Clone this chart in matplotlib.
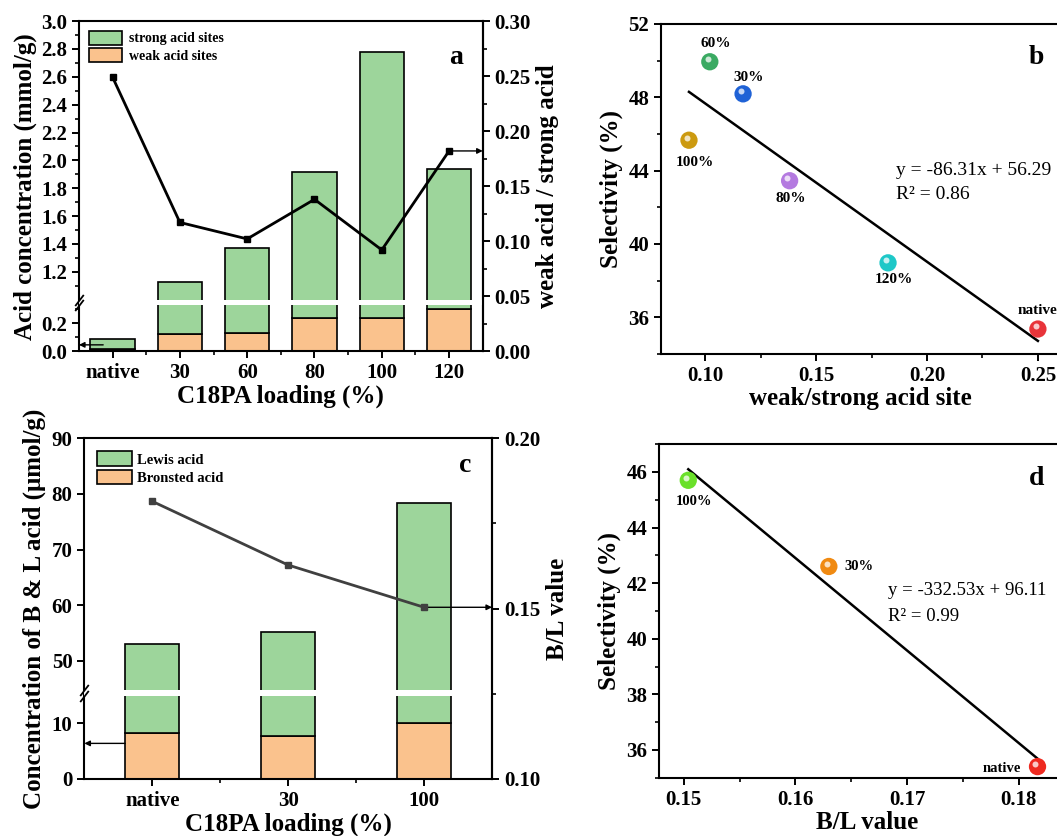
import numpy as np
import matplotlib
matplotlib.use('Agg')
import matplotlib.pyplot as plt
from matplotlib.patches import Patch
from matplotlib.ticker import MultipleLocator, FixedLocator
from matplotlib.transforms import offset_copy

plt.rcParams['font.family'] = ['Liberation Serif', 'DejaVu Serif']
plt.rcParams['font.weight'] = 'bold'
plt.rcParams['axes.labelweight'] = 'bold'
plt.rcParams['axes.linewidth'] = 1.5
plt.rcParams['xtick.major.width'] = 1.4
plt.rcParams['ytick.major.width'] = 1.4
plt.rcParams['xtick.minor.width'] = 1.2
plt.rcParams['ytick.minor.width'] = 1.2
plt.rcParams['xtick.major.size'] = 5
plt.rcParams['ytick.major.size'] = 5
plt.rcParams['xtick.minor.size'] = 3
plt.rcParams['ytick.minor.size'] = 3
plt.rcParams['xtick.labelsize'] = 15
plt.rcParams['ytick.labelsize'] = 15

GREEN = '#9dd59b'
ORANGE = '#fac28d'
LABEL_FS = 18

# --- panel a: acid site concentration vs loading ---
loading_a = ['native', '30', '60', '80', '100', '120']
weak_a = [0.017, 0.12, 0.13, 0.24, 0.24, 0.30]
strong_a = [0.069, 1.01, 1.24, 1.68, 2.54, 1.64]
ratio_a = [0.249, 0.117, 0.102, 0.138, 0.092, 0.182]

# --- panel b: selectivity vs weak/strong ratio ---
names_b = ['native', '30%', '60%', '80%', '100%', '120%']
ratio_b = [0.250, 0.117, 0.102, 0.138, 0.0926, 0.1824]
sel_b = [35.36, 48.19, 49.94, 43.45, 45.66, 38.97]
colors_b = ['#e8343a', '#1f62d6', '#3aaa62', '#b47ae0', '#cc9a10', '#1ec8c8']
fit_b = (-86.31, 56.29)

# --- panel c: Bronsted / Lewis acid ---
loading_c = ['native', '30', '100']
bronsted_c = [8.2, 7.7, 10.1]
lewis_c = [44.9, 47.5, 68.2]
bl_c = [0.1815, 0.1628, 0.1504]

# --- panel d: selectivity vs B/L ---
names_d = ['native', '30%', '100%']
bl_d = [0.1817, 0.1630, 0.1504]
sel_d = [35.4, 42.6, 45.7]
colors_d = ['#ee2a20', '#f08a12', '#6ae02a']
fit_d = (-332.53, 96.11)


def broken_scale(lo, hi, gap):
    """squeeze the data range lo..hi into a band of width gap"""
    shift = hi - lo - gap

    def fwd(y):
        y = np.asarray(y, dtype=float)
        mid = lo + (y - lo) * gap / (hi - lo)
        return np.where(y <= lo, y, np.where(y >= hi, y - shift, mid))

    def inv(u):
        u = np.asarray(u, dtype=float)
        mid = lo + (u - lo) * (hi - lo) / gap
        return np.where(u <= lo, u, np.where(u >= lo + gap, u + shift, mid))
    return fwd, inv


def add_break(ax, lo, hi):
    ax.axhspan(lo, hi, color='white', zorder=3, lw=0)
    ax.plot([0, 0], [lo, hi], transform=ax.get_yaxis_transform(),
            marker=[(-1, -1.3), (1, 1.3)], ms=8, ls='none', mec='k',
            mew=1.3, clip_on=False, zorder=5)


def sphere(ax, x, y, colors, s=155):
    ax.scatter(x, y, s=s, c=colors, zorder=4, linewidths=0)
    hl = offset_copy(ax.transData, fig=ax.figure, x=-1.6, y=1.9, units='points')
    ax.scatter(x, y, s=s * 0.12, c='white', alpha=0.75, zorder=5,
               linewidths=0, transform=hl)


fig = plt.figure(figsize=(10.57, 8.36), dpi=100)

# ================= panel a =================
ax_a = fig.add_axes([0.0747, 0.580, 0.382, 0.3947])
fa, ia = broken_scale(0.33, 1.0, 0.04)
ax_a.set_yscale('function', functions=(fa, ia))
xa = np.arange(len(loading_a))
ax_a.bar(xa, weak_a, width=0.66, color=ORANGE, edgecolor='k', lw=1.2, zorder=2)
ax_a.bar(xa, strong_a, bottom=weak_a, width=0.66, color=GREEN, edgecolor='k',
         lw=1.2, zorder=2)
ax_a.set_xlim(-0.5, len(loading_a) - 0.5)
ax_a.set_ylim(0, 3.0)
ax_a.yaxis.set_major_locator(FixedLocator([0, 0.2] + list(np.round(np.arange(1.2, 3.01, 0.2), 1))))
ax_a.yaxis.set_minor_locator(FixedLocator([0.1, 0.3] + list(np.round(np.arange(1.1, 3.0, 0.2), 1))))
ax_a.yaxis.set_major_formatter(plt.FuncFormatter(lambda v, p: f'{v:.1f}'))
ax_a.set_xticks(xa)
ax_a.set_xticklabels(loading_a)
ax_a.xaxis.set_minor_locator(FixedLocator(xa[:-1] + 0.5))
add_break(ax_a, 0.33, 1.0)
ax_a.set_ylabel('Acid concentration (mmol/g)', fontsize=LABEL_FS, labelpad=3)
ax_a.set_xlabel('C18PA loading (%)', fontsize=LABEL_FS, labelpad=1)
ax_a.legend(handles=[Patch(facecolor=GREEN, edgecolor='k', lw=1.2, label='strong acid sites'),
                     Patch(facecolor=ORANGE, edgecolor='k', lw=1.2, label='weak acid sites')],
            loc='upper left', frameon=False, fontsize=10, handlelength=2.4,
            handleheight=1.15, borderaxespad=0.3, labelspacing=0.2, handletextpad=0.5)
ax_a.text(0.933, 0.89, 'a', transform=ax_a.transAxes, fontsize=20,
          ha='center', va='center')
ax_a.annotate('', xy=(-0.5, 0.045), xytext=(-0.14, 0.045),
              arrowprops=dict(arrowstyle='-|>', color='k', lw=1, mutation_scale=8,
                              shrinkA=0, shrinkB=0), zorder=6)

ax_a2 = ax_a.twinx()
for side in ['left', 'top', 'bottom']:
    ax_a2.spines[side].set_visible(False)
ax_a2.plot(xa, ratio_a, color='k', lw=2, marker='s', ms=5, zorder=4)
ax_a2.set_ylim(0, 0.30)
ax_a2.yaxis.set_major_locator(MultipleLocator(0.05))
ax_a2.yaxis.set_minor_locator(MultipleLocator(0.025))
ax_a2.yaxis.set_major_formatter(plt.FuncFormatter(lambda v, p: f'{v:.2f}'))
ax_a2.set_ylabel('weak acid / strong acid', fontsize=LABEL_FS, labelpad=4)
ax_a2.annotate('', xy=(len(loading_a) - 0.5, ratio_a[-1]), xytext=(xa[-1], ratio_a[-1]),
               arrowprops=dict(arrowstyle='-|>', color='k', lw=1, mutation_scale=8,
                               shrinkA=0, shrinkB=0))

# ================= panel b =================
ax_b = fig.add_axes([0.6254, 0.5766, 0.3775, 0.3947])
sphere(ax_b, ratio_b, sel_b, colors_b)
xf = np.array([min(ratio_b), max(ratio_b)])
ax_b.plot(xf, fit_b[0] * xf + fit_b[1], color='k', lw=1.8, zorder=3)
offs_b = {'native': (0, 13), '30%': (4, 12), '60%': (4, 13),
          '80%': (1, -13), '100%': (4, -16), '120%': (4, -12)}
for n, x, y in zip(names_b, ratio_b, sel_b):
    ax_b.annotate(n, (x, y), xytext=offs_b[n], textcoords='offset points',
                  ha='center', va='center', fontsize=11)
ax_b.set_xlim(0.08, 0.26)
ax_b.set_ylim(34, 52)
ax_b.xaxis.set_major_locator(MultipleLocator(0.05))
ax_b.xaxis.set_minor_locator(MultipleLocator(0.025))
ax_b.xaxis.set_major_formatter(plt.FuncFormatter(lambda v, p: f'{v:.2f}'))
ax_b.yaxis.set_major_locator(MultipleLocator(4))
ax_b.yaxis.set_minor_locator(MultipleLocator(2))
ax_b.set_xlabel('weak/strong acid site', fontsize=LABEL_FS, labelpad=1)
ax_b.set_ylabel('Selectivity (%)', fontsize=LABEL_FS, labelpad=4)
ax_b.text(0.59, 0.557, 'y = -86.31x + 56.29', transform=ax_b.transAxes,
          fontsize=14, fontweight='normal', va='center')
ax_b.text(0.59, 0.482, 'R² = 0.86', transform=ax_b.transAxes,
          fontsize=14, fontweight='normal', va='center')
ax_b.text(0.94, 0.897, 'b', transform=ax_b.transAxes, fontsize=20,
          ha='center', va='center')

# ================= panel c =================
ax_c = fig.add_axes([0.0798, 0.0682, 0.3857, 0.4075])
fc, ic = broken_scale(15.0, 44.76, 1.0)
ax_c.set_yscale('function', functions=(fc, ic))
xc = np.arange(len(loading_c))
ax_c.bar(xc, bronsted_c, width=0.4, color=ORANGE, edgecolor='k', lw=1.2, zorder=2)
ax_c.bar(xc, lewis_c, bottom=bronsted_c, width=0.4, color=GREEN, edgecolor='k',
         lw=1.2, zorder=2)
ax_c.set_xlim(-0.5, len(loading_c) - 0.5)
ax_c.set_ylim(0, 90)
ax_c.yaxis.set_major_locator(FixedLocator([0, 10, 50, 60, 70, 80, 90]))
ax_c.yaxis.set_minor_locator(FixedLocator([]))
ax_c.set_xticks(xc)
ax_c.set_xticklabels(loading_c)
ax_c.xaxis.set_minor_locator(FixedLocator(xc[:-1] + 0.5))
add_break(ax_c, 15.0, 44.76)
ax_c.set_ylabel('Concentration of B & L acid (μmol/g)', fontsize=LABEL_FS, labelpad=4)
ax_c.set_xlabel('C18PA loading (%)', fontsize=LABEL_FS, labelpad=1)
ax_c.legend(handles=[Patch(facecolor=GREEN, edgecolor='k', lw=1.2, label='Lewis acid'),
                     Patch(facecolor=ORANGE, edgecolor='k', lw=1.2, label='Bronsted acid')],
            loc='upper left', frameon=False, fontsize=10.5, handlelength=2.4,
            handleheight=1.15, borderaxespad=0.5, labelspacing=0.2, handletextpad=0.3)
ax_c.text(0.934, 0.92, 'c', transform=ax_c.transAxes, fontsize=20,
          ha='center', va='center')
ax_c.annotate('', xy=(-0.5, 6.4), xytext=(-0.2, 6.4),
              arrowprops=dict(arrowstyle='-|>', color='k', lw=1, mutation_scale=8,
                              shrinkA=0, shrinkB=0), zorder=6)

ax_c2 = ax_c.twinx()
for side in ['left', 'top', 'bottom']:
    ax_c2.spines[side].set_visible(False)
ax_c2.plot(xc, bl_c, color='#404040', lw=2, marker='s', ms=5, zorder=4)
ax_c2.set_ylim(0.10, 0.20)
ax_c2.yaxis.set_major_locator(MultipleLocator(0.05))
ax_c2.yaxis.set_minor_locator(MultipleLocator(0.025))
ax_c2.yaxis.set_major_formatter(plt.FuncFormatter(lambda v, p: f'{v:.2f}'))
ax_c2.set_ylabel('B/L value', fontsize=LABEL_FS, labelpad=4)
ax_c2.annotate('', xy=(len(loading_c) - 0.5, bl_c[-1]), xytext=(xc[-1], bl_c[-1]),
               arrowprops=dict(arrowstyle='-|>', color='k', lw=1, mutation_scale=8,
                               shrinkA=0, shrinkB=0))

# ================= panel d =================
ax_d = fig.add_axes([0.6237, 0.0697, 0.3927, 0.399])
sphere(ax_d, bl_d, sel_d, colors_d)
xf = np.array([min(bl_d), max(bl_d)])
ax_d.plot(xf, fit_d[0] * xf + fit_d[1], color='k', lw=1.8, zorder=3)
offs_d = {'native': (-12, -1, 'right'), '30%': (11, 0, 'left'), '100%': (4, -15, 'center')}
for n, x, y in zip(names_d, bl_d, sel_d):
    dx, dy, ha = offs_d[n]
    ax_d.annotate(n, (x, y), xytext=(dx, dy), textcoords='offset points',
                  ha=ha, va='center', fontsize=10.5)
ax_d.set_xlim(0.1478, 0.185)
ax_d.set_ylim(35, 47)
ax_d.xaxis.set_major_locator(MultipleLocator(0.01))
ax_d.xaxis.set_minor_locator(MultipleLocator(0.005))
ax_d.xaxis.set_major_formatter(plt.FuncFormatter(lambda v, p: f'{v:.2f}'))
ax_d.yaxis.set_major_locator(MultipleLocator(2))
ax_d.yaxis.set_minor_locator(MultipleLocator(1))
ax_d.set_xlabel('B/L value', fontsize=LABEL_FS, labelpad=1)
ax_d.set_ylabel('Selectivity (%)', fontsize=LABEL_FS, labelpad=4)
ax_d.text(0.552, 0.5625, 'y = -332.53x + 96.11', transform=ax_d.transAxes,
          fontsize=13.5, fontweight='normal', va='center')
ax_d.text(0.552, 0.4825, 'R² = 0.99', transform=ax_d.transAxes,
          fontsize=13.5, fontweight='normal', va='center')
ax_d.text(0.91, 0.898, 'd', transform=ax_d.transAxes, fontsize=20,
          ha='center', va='center')

plt.savefig('out.png', dpi=100)
plt.close()
